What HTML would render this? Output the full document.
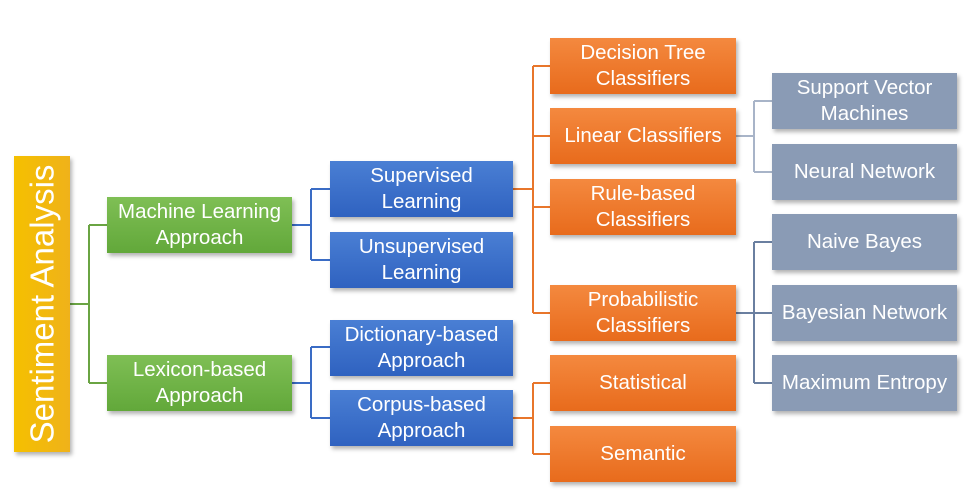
<!DOCTYPE html>
<html><head><style>
body{margin:0;width:972px;height:501px;background:#fff;position:relative;overflow:hidden;font-family:"Liberation Sans",sans-serif}
.b{position:absolute;display:flex;align-items:center;justify-content:center;text-align:center;color:#fff;font-size:20.5px;line-height:26px;box-shadow:2px 3px 4px rgba(0,0,0,0.3);white-space:nowrap}
.g{background:linear-gradient(#7fbf55,#62a83a);width:185px;height:56px;left:107px}
.bl{background:linear-gradient(#4a7fd4,#2f62c0);width:183px;height:56px;left:330px}
.o{background:linear-gradient(#f4893f,#e86b1c);width:186px;height:56px;left:550px}
.gr{background:#8a9bb5;width:185px;height:56px;left:772px}
</style></head><body>
<svg width="972" height="501" style="position:absolute;left:0;top:0">
<g fill="none" stroke-width="2">
<path d="M70 304H89M89 225V383M89 225H107M89 383H107" stroke="#6aa443"/>
<path d="M292 225H311M311 189V260M311 189H330M311 260H330M292 383H311M311 347V418M311 347H330M311 418H330" stroke="#3a6cc5"/>
<path d="M513 189H533M533 66V313M533 66H550M533 136H550M533 207H550M533 313H550M513 418H533M533 383V454M533 383H550M533 454H550" stroke="#e8762b"/>
<path d="M736 136H754M754 101V172M754 101H772M754 172H772" stroke="#a8b4c8"/>
<path d="M736 313H772M754 242V383M754 242H772M754 383H772" stroke="#6a7fa0"/>
</g></svg>
<div class="b" style="left:14px;top:156px;width:56px;height:296px;background:linear-gradient(90deg,#f5c000,#efb21a)"><div style="transform:rotate(-90deg);white-space:nowrap;font-size:33px">Sentiment Analysis</div></div>
<div class="b g" style="top:197px">Machine Learning<br>Approach</div>
<div class="b g" style="top:355px">Lexicon-based<br>Approach</div>
<div class="b bl" style="top:161px">Supervised<br>Learning</div>
<div class="b bl" style="top:232px">Unsupervised<br>Learning</div>
<div class="b bl" style="top:320px">Dictionary-based<br>Approach</div>
<div class="b bl" style="top:390px">Corpus-based<br>Approach</div>
<div class="b o" style="top:38px">Decision Tree<br>Classifiers</div>
<div class="b o" style="top:108px">Linear Classifiers</div>
<div class="b o" style="top:179px">Rule-based<br>Classifiers</div>
<div class="b o" style="top:285px">Probabilistic<br>Classifiers</div>
<div class="b o" style="top:355px">Statistical</div>
<div class="b o" style="top:426px">Semantic</div>
<div class="b gr" style="top:73px">Support Vector<br>Machines</div>
<div class="b gr" style="top:144px">Neural Network</div>
<div class="b gr" style="top:214px">Naive Bayes</div>
<div class="b gr" style="top:285px">Bayesian Network</div>
<div class="b gr" style="top:355px">Maximum Entropy</div>
</body></html>
